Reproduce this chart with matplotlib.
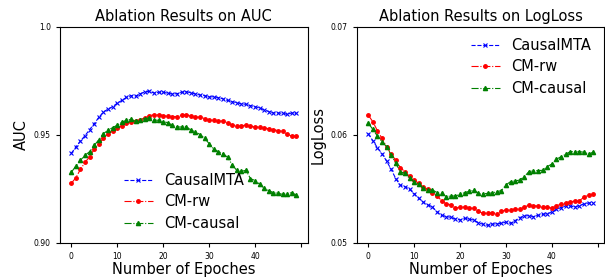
import matplotlib
matplotlib.use("Agg")
import matplotlib.pyplot as plt
import numpy as np

epochs = np.arange(50)

auc_causalmta = [
    0.9415, 0.9444, 0.9472, 0.9497, 0.9525, 0.9552, 0.9582, 0.9606, 0.9620, 0.9631,
    0.9647, 0.9660, 0.9674, 0.9682, 0.9680, 0.9691, 0.9699, 0.9702, 0.9694, 0.9698,
    0.9698, 0.9693, 0.9690, 0.9691, 0.9698, 0.9700, 0.9696, 0.9690, 0.9685, 0.9682,
    0.9676, 0.9677, 0.9673, 0.9667, 0.9660, 0.9654, 0.9650, 0.9644, 0.9642, 0.9636,
    0.9631, 0.9625, 0.9616, 0.9608, 0.9602, 0.9602, 0.9600, 0.9596, 0.9602, 0.9600,
]
auc_cm_rw = [
    0.9276, 0.9302, 0.9341, 0.9373, 0.9400, 0.9434, 0.9458, 0.9485, 0.9505, 0.9520,
    0.9531, 0.9543, 0.9554, 0.9560, 0.9563, 0.9569, 0.9580, 0.9590, 0.9593, 0.9594,
    0.9590, 0.9586, 0.9585, 0.9585, 0.9591, 0.9594, 0.9588, 0.9582, 0.9583, 0.9576,
    0.9568, 0.9568, 0.9563, 0.9565, 0.9556, 0.9546, 0.9543, 0.9543, 0.9545, 0.9540,
    0.9537, 0.9537, 0.9532, 0.9529, 0.9525, 0.9520, 0.9517, 0.9503, 0.9495, 0.9494,
]
auc_cm_causal = [
    0.9327, 0.9356, 0.9383, 0.9406, 0.9423, 0.9452, 0.9478, 0.9506, 0.9522, 0.9534,
    0.9545, 0.9559, 0.9568, 0.9573, 0.9563, 0.9571, 0.9576, 0.9579, 0.9569, 0.9568,
    0.9562, 0.9557, 0.9545, 0.9537, 0.9537, 0.9539, 0.9523, 0.9515, 0.9502, 0.9485,
    0.9460, 0.9434, 0.9423, 0.9414, 0.9397, 0.9363, 0.9336, 0.9332, 0.9336, 0.9298,
    0.9289, 0.9272, 0.9253, 0.9242, 0.9233, 0.9230, 0.9225, 0.9228, 0.9233, 0.9221,
]

ll_causalmta = [
    0.06012, 0.05948, 0.05883, 0.05827, 0.05759, 0.05682, 0.05596, 0.05534, 0.05522, 0.05497,
    0.05457, 0.05414, 0.05377, 0.05352, 0.05333, 0.05287, 0.05256, 0.05244, 0.05238, 0.05222,
    0.05213, 0.05228, 0.05219, 0.05213, 0.05188, 0.05173, 0.05164, 0.05173, 0.05179, 0.05182,
    0.05194, 0.05182, 0.05207, 0.05235, 0.05250, 0.05253, 0.05244, 0.05256, 0.05265, 0.05272,
    0.05284, 0.05312, 0.05327, 0.05343, 0.05343, 0.05333, 0.05346, 0.05361, 0.05370, 0.05373,
]
ll_cm_rw = [
    0.06185, 0.06123, 0.06040, 0.05969, 0.05892, 0.05824, 0.05765, 0.05698, 0.05660, 0.05617,
    0.05583, 0.05552, 0.05519, 0.05497, 0.05466, 0.05435, 0.05392, 0.05361, 0.05355, 0.05324,
    0.05330, 0.05333, 0.05321, 0.05321, 0.05293, 0.05275, 0.05275, 0.05281, 0.05272, 0.05293,
    0.05306, 0.05302, 0.05315, 0.05315, 0.05330, 0.05352, 0.05346, 0.05340, 0.05330, 0.05333,
    0.05321, 0.05346, 0.05358, 0.05370, 0.05380, 0.05389, 0.05392, 0.05423, 0.05444, 0.05450,
]
ll_cm_causal = [
    0.06111, 0.06052, 0.05991, 0.05938, 0.05892, 0.05815, 0.05738, 0.05660, 0.05645, 0.05599,
    0.05568, 0.05543, 0.05506, 0.05491, 0.05491, 0.05466, 0.05460, 0.05429, 0.05435, 0.05435,
    0.05450, 0.05466, 0.05478, 0.05488, 0.05460, 0.05454, 0.05460, 0.05463, 0.05475, 0.05485,
    0.05537, 0.05568, 0.05574, 0.05583, 0.05614, 0.05660, 0.05670, 0.05670, 0.05673, 0.05707,
    0.05731, 0.05775, 0.05799, 0.05821, 0.05846, 0.05846, 0.05846, 0.05840, 0.05824, 0.05840,
]

xticks = [0, 10, 20, 30, 40, 50]
xtick_labels = ["0", "10", "20", "30", "40", ""]
auc_ticks = [0.90, 0.95, 1.0]
auc_tick_labels = ["0.90", "0.95", "1.0"]
ll_ticks = [0.05, 0.06, 0.07]
ll_tick_labels = ["0.05", "0.06", "0.07"]

fig = plt.figure(figsize=(6.05, 2.78), dpi=100)
ax1 = fig.add_axes([0.0992, 0.126, 0.4094, 0.777])
ax2 = fig.add_axes([0.590, 0.126, 0.409, 0.777])


def draw(ax, a, b, c):
    ax.plot(epochs, a, "b--", marker="x", ms=3, mew=0.8, lw=0.8, label="CausalMTA")
    ax.plot(epochs, b, "r-.", marker="o", ms=2.5, lw=0.8, label="CM-rw")
    ax.plot(epochs, c, "g-.", marker="^", ms=3, lw=0.8, label="CM-causal")
    ax.set_xticks(xticks)
    ax.set_xticklabels(xtick_labels)
    ax.set_xlim(-2.45, 51.45)
    ax.tick_params(labelsize=5.5, length=3)
    ax.set_xlabel("Number of Epoches", fontsize=10.5, labelpad=1)


draw(ax1, auc_causalmta, auc_cm_rw, auc_cm_causal)
ax1.set_ylim(0.90, 1.0)
ax1.set_yticks(auc_ticks)
ax1.set_yticklabels(auc_tick_labels)
ax1.set_ylabel("AUC", fontsize=10.5)
ax1.set_title("Ablation Results on AUC", fontsize=10.5, pad=4)
ax1.legend(loc="lower center", bbox_to_anchor=(0.50, -0.005), frameon=False,
           fontsize=10.5, labelspacing=0.45)

draw(ax2, ll_causalmta, ll_cm_rw, ll_cm_causal)
ax2.set_ylim(0.05, 0.07)
ax2.set_yticks(ll_ticks)
ax2.set_yticklabels(ll_tick_labels)
ax2.set_ylabel("LogLoss", fontsize=10.5)
ax2.set_title("Ablation Results on LogLoss", fontsize=10.5, pad=4)
ax2.legend(loc="upper right", bbox_to_anchor=(1.0, 1.01), frameon=False,
           fontsize=10.5, labelspacing=0.45)

fig.savefig("out.png", dpi=100)
